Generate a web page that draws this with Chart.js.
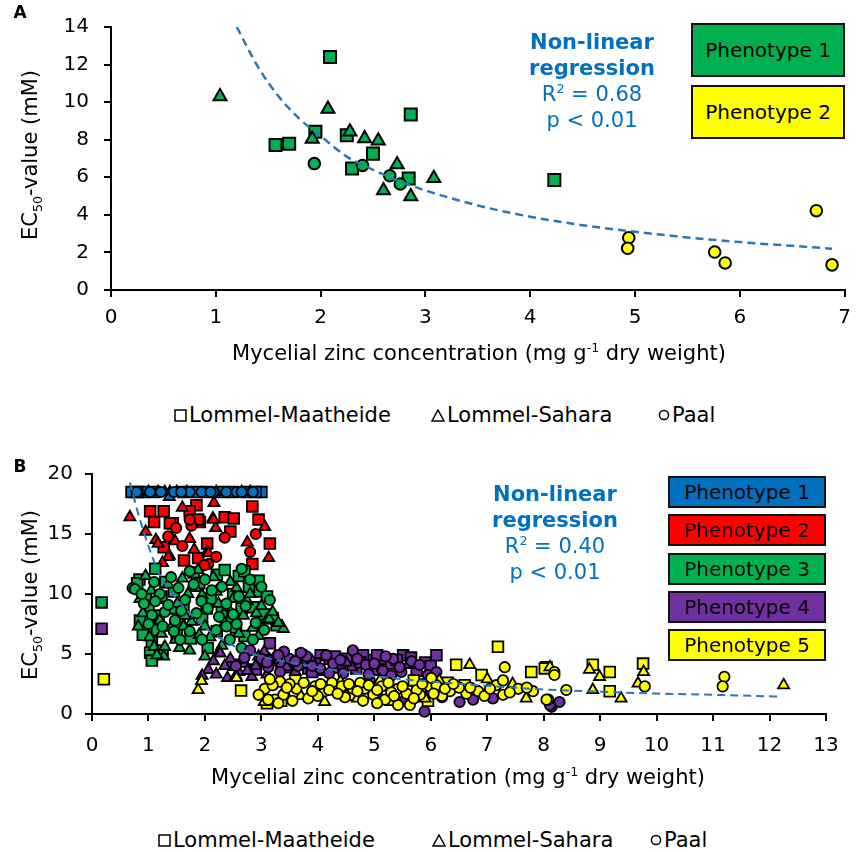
<!DOCTYPE html>
<html>
<head>
<meta charset="utf-8">
<script src="https://cdn.jsdelivr.net/npm/chart.js@4.4.1/dist/chart.umd.min.js"></script>
<style>
  body { margin: 0; width: 860px; height: 852px; position: relative; background: #fff; overflow: hidden;
         font-family: 'DejaVu Sans', Verdana, sans-serif; color: #000; }
  canvas { position: absolute; left: 0; }
  .t { position: absolute; white-space: nowrap; transform: translate(-50%, -50%); line-height: 1; }
  .rot { transform: translate(-50%, -50%) rotate(-90deg); }
  .lab { font-size: 21px; }
  .letter { font-weight: bold; font-size: 17px; }
  .reg { color: #0070C0; font-size: 21px; text-align: center; line-height: 26px; }
  .reg b { font-weight: bold; }
  .box { position: absolute; box-sizing: border-box; border: 2px solid #111; font-size: 20px;
         display: flex; align-items: center; justify-content: center; }
  .leg { position: absolute; display: flex; align-items: center; transform: translateY(-50%); font-size: 21px; white-space: nowrap; }
  .leg svg { margin-right: 2px; }
  sub, sup { font-size: 0.6em; line-height: 0; }
</style>
</head>
<body>
<canvas id="chartA" width="860" height="340" style="top:0"></canvas>
<canvas id="chartB" width="860" height="340" style="top:440px"></canvas>

<!-- panel A texts -->
<div class="t letter" style="left:20px;top:12px">A</div>
<div class="t lab rot" style="left:30px;top:155px">EC<sub>50</sub>-value (mM)</div>
<div class="t lab" style="left:479px;top:353px">Mycelial zinc concentration (mg g<sup>-1</sup> dry weight)</div>
<div class="t reg" style="left:592px;top:81px"><b>Non-linear<br>regression</b><br>R<sup>2</sup> = 0.68<br>p &lt; 0.01</div>
<div class="box" style="left:691px;top:23px;width:154px;height:54px;background:#00B050">Phenotype 1</div>
<div class="box" style="left:691px;top:85px;width:154px;height:54px;background:#FFFF00">Phenotype 2</div>
<div class="leg" style="left:174px;top:415px"><svg width="13" height="13"><rect x="1" y="1" width="11" height="11" fill="none" stroke="#000" stroke-width="1.5"/></svg>Lommel-Maatheide</div>
<div class="leg" style="left:431px;top:415px"><svg width="14" height="13"><polygon points="7,1 13,12 1,12" fill="none" stroke="#000" stroke-width="1.5"/></svg>Lommel-Sahara</div>
<div class="leg" style="left:658px;top:415px"><svg width="12" height="12"><circle cx="6" cy="6" r="4.6" fill="none" stroke="#000" stroke-width="1.5"/></svg>Paal</div>

<!-- panel B texts -->
<div class="t letter" style="left:20px;top:466px">B</div>
<div class="t lab rot" style="left:30px;top:595px">EC<sub>50</sub>-value (mM)</div>
<div class="t lab" style="left:458px;top:777px">Mycelial zinc concentration (mg g<sup>-1</sup> dry weight)</div>
<div class="t reg" style="left:555px;top:533px"><b>Non-linear<br>regression</b><br>R<sup>2</sup> = 0.40<br>p &lt; 0.01</div>
<div class="box" style="left:668px;top:476px;width:158px;height:32px;background:#0070C0">Phenotype 1</div>
<div class="box" style="left:668px;top:514px;width:158px;height:32px;background:#FF0000">Phenotype 2</div>
<div class="box" style="left:668px;top:553px;width:158px;height:32px;background:#00B050">Phenotype 3</div>
<div class="box" style="left:668px;top:591px;width:158px;height:32px;background:#7030A0">Phenotype 4</div>
<div class="box" style="left:668px;top:629px;width:158px;height:32px;background:#FFFF00">Phenotype 5</div>
<div class="leg" style="left:158px;top:840px"><svg width="13" height="13"><rect x="1" y="1" width="11" height="11" fill="none" stroke="#000" stroke-width="1.5"/></svg>Lommel-Maatheide</div>
<div class="leg" style="left:432px;top:840px"><svg width="14" height="13"><polygon points="7,1 13,12 1,12" fill="none" stroke="#000" stroke-width="1.5"/></svg>Lommel-Sahara</div>
<div class="leg" style="left:650px;top:840px"><svg width="12" height="12"><circle cx="6" cy="6" r="4.6" fill="none" stroke="#000" stroke-width="1.5"/></svg>Paal</div>

<script>
// ---- Panel A data: [zinc mg/g, EC50 mM] ----
const aP1Maatheide = [[2.09,12.4],[2.86,9.34],[1.95,8.42],[1.57,7.72],[1.70,7.78],[2.25,8.24],[2.50,7.26],[2.30,6.47],[2.84,5.94],[4.23,5.85]];
const aP1Sahara = [[1.04,10.3],[2.07,9.63],[1.92,8.04],[2.28,8.42],[2.42,8.07],[2.55,7.95],[2.73,6.68],[2.60,5.30],[2.86,4.98],[3.08,5.95]];
const aP1Paal = [[1.94,6.73],[2.40,6.63],[2.66,6.08],[2.76,5.64]];
const aP2Paal = [[4.94,2.78],[4.93,2.22],[5.76,2.02],[5.86,1.44],[6.73,4.22],[6.88,1.34]];
const aFit = [[1.2,14.0],[1.4,11.9],[1.6,10.3],[1.8,9.1],[2.0,8.2],[2.25,7.1],[2.5,6.4],[2.75,5.8],[3.0,5.3],[3.5,4.5],[4.0,3.9],[4.5,3.45],[5.0,3.1],[5.5,2.8],[6.0,2.55],[6.5,2.35],[6.88,2.2]];

// ---- Panel B data ----
const bP1Maatheide = [[0.70,18.5],[0.91,18.5],[1.62,18.5],[2.03,18.5],[2.30,18.5],[2.74,18.5],[3.00,18.5],[0.80,18.5],[1.10,18.5],[1.85,18.5],[2.50,18.5],[2.90,18.5]];
const bP1Sahara = [[1.17,18.5],[1.29,18.5],[1.38,18.5],[1.50,18.5],[2.65,18.5],[1.00,18.5],[1.68,18.5],[2.20,18.5],[2.80,18.5],[1.37,18.1]];
const bP1Paal = [[0.79,18.5],[1.03,18.5],[1.73,18.5],[1.94,18.5],[2.15,18.5],[2.38,18.5],[2.56,18.5],[2.85,18.5],[1.22,18.5],[1.45,18.5],[1.58,18.5],[2.10,18.5],[2.65,18.5]];

const bP2Maatheide = [[1.03,16.9],[1.27,16.9],[1.85,17.4],[2.84,17.3],[1.73,16.9],[1.43,15.9],[1.91,16.0],[2.35,16.4],[2.51,16.3],[3.15,14.2],[1.27,13.9],[2.04,14.2],[1.63,12.8],[1.88,13.0],[2.84,12.5],[1.38,15.9],[1.88,16.2],[1.10,16.0],[2.45,15.2],[2.95,16.2]];
const bP2Sahara = [[0.67,16.4],[2.16,17.6],[2.14,16.3],[2.19,15.5],[3.06,15.6],[3.13,13.0],[1.13,14.5],[1.17,14.2],[1.73,14.6],[1.81,13.7],[2.04,13.5],[1.37,13.2],[1.47,14.4],[1.35,13.1],[2.06,13.4],[2.15,16.2],[0.95,15.2],[1.60,17.2],[2.75,14.3],[1.25,12.6]];
const bP2Paal = [[1.49,15.5],[1.76,15.7],[2.35,14.7],[1.35,14.8],[2.06,12.5],[2.80,13.5],[1.73,16.2],[1.99,12.4],[1.60,14.0],[2.20,13.1],[2.90,15.0]];

const bP3Maatheide = [[0.17,9.3],[0.84,11.2],[1.12,12.1],[0.85,7.8],[1.23,9.8],[2.21,11.6],[2.03,8.8],[2.91,10.2],[2.65,8.8],[3.27,7.4],[2.21,6.9],[1.06,6.0],[1.03,5.1],[1.06,4.45],[1.30,11.0],[1.55,7.6],[1.90,10.9],[2.50,10.0],[2.95,11.1],[2.70,6.5],[1.40,8.8],[1.75,6.3],[2.45,7.8],[3.05,8.3],[0.95,9.7],[1.15,7.0],[2.35,12.0],
  [0.80,10.9],[1.00,9.0],[1.18,8.2],[1.45,10.2],[1.62,9.0],[1.80,11.8],[2.10,9.6],[2.30,8.5],[2.60,11.5],[2.78,10.6],[3.10,9.8],[2.85,8.9],[1.25,5.3],[1.50,6.6],[2.05,5.5],[2.55,7.2],[3.20,8.0],[0.90,6.6],[1.95,7.9],[2.70,11.9]];
const bP3Sahara = [[0.82,7.3],[1.14,9.5],[1.51,9.2],[1.84,10.5],[1.88,12.0],[2.24,9.2],[1.76,7.7],[2.56,10.5],[2.91,8.4],[3.09,7.8],[3.39,7.1],[2.09,6.4],[1.23,6.7],[1.29,5.6],[1.27,4.8],[1.73,5.3],[3.14,7.9],[0.90,8.4],[1.05,10.3],[1.60,11.3],[2.00,7.3],[2.40,8.9],[2.75,9.4],[2.60,6.7],[1.40,7.2],[1.95,9.9],[2.30,5.7],[1.55,5.5],[2.85,7.2],[3.00,9.0],[0.95,11.5],[1.10,5.6],[2.20,10.2],[1.65,8.2],
  [0.85,9.6],[1.02,6.4],[1.20,7.8],[1.35,10.8],[1.48,6.2],[1.70,10.0],[1.90,6.6],[2.15,11.4],[2.35,7.6],[2.50,9.6],[2.68,8.2],[2.80,10.0],[3.20,8.5],[3.30,7.6],[1.15,4.9],[2.00,4.8],[2.25,5.2],[2.95,6.5],[1.62,7.3],[2.45,11.0]];
const bP3Paal = [[0.72,10.5],[0.76,10.4],[0.92,9.2],[1.06,8.25],[1.29,8.5],[1.53,10.5],[1.65,9.5],[1.73,11.9],[2.12,10.3],[1.94,9.4],[1.47,7.8],[2.38,9.2],[2.65,12.1],[2.80,11.2],[3.15,9.5],[2.56,7.5],[2.38,7.3],[1.73,6.9],[1.56,6.2],[2.85,6.2],[2.44,6.2],[1.20,10.0],[1.00,7.5],[2.00,11.2],[2.60,9.8],[1.85,8.4],[2.25,8.1],[1.35,9.1],[2.90,7.6],[1.10,11.0],
  [0.88,10.0],[1.12,9.4],[1.40,11.4],[1.58,8.6],[1.80,10.8],[2.05,8.8],[2.30,10.6],[2.50,8.3],[2.72,9.0],[3.00,10.6],[1.25,7.3],[1.95,6.2],[2.20,7.0],[2.65,5.5],[3.05,7.0],[1.45,6.9]];

const bP4Maatheide = [[0.17,7.1],[3.15,5.9],[3.47,3.9],[3.83,3.8],[4.21,4.6],[4.51,4.6],[4.68,3.8],[4.92,4.5],[5.13,4.6],[5.51,4.9],[6.10,4.9],[3.00,4.4],[3.70,4.9],[4.40,4.1],[5.30,4.2],[5.75,3.6],[2.90,3.7],[4.05,4.9],[5.00,3.8],[4.80,4.9],[5.90,4.3],
  [3.25,4.5],[3.55,4.4],[3.95,4.2],[4.30,4.8],[4.75,4.3],[5.05,4.9],[5.40,4.5],[5.65,4.7],[6.00,4.0],[2.50,4.1],[3.90,3.5]];
const bP4Sahara = [[2.06,3.67],[2.27,5.06],[2.83,3.1],[2.71,4.2],[3.24,4.8],[2.45,4.6],[2.60,3.5],[2.15,4.4],[3.05,5.2],[3.35,4.2],[2.95,4.8],[3.90,4.4],[4.60,3.9],[2.40,3.0],[3.60,3.5],[5.60,4.1],[4.30,3.7],[3.10,3.3],
  [2.20,3.3],[2.35,4.0],[2.55,3.2],[2.90,4.0],[3.15,4.5],[3.45,3.9],[3.75,4.1],[4.10,3.5],[4.50,4.3],[5.00,3.5],[1.95,3.2],[2.75,3.6]];
const bP4Paal = [[2.80,5.3],[3.12,3.9],[3.33,3.5],[3.50,4.6],[3.80,4.8],[4.04,3.8],[4.27,4.2],[4.62,5.3],[5.33,4.6],[5.66,4.4],[5.48,3.5],[5.95,3.25],[5.89,0.2],[6.98,1.6],[6.51,1.0],[8.14,0.6],[8.11,0.75],[8.28,1.0],[4.92,2.8],[2.55,4.0],[3.00,4.6],[3.65,4.0],[4.15,4.9],[4.45,3.4],[4.85,4.1],[5.15,3.6],[5.05,1.6],[5.55,1.2],[6.20,1.4],[6.75,1.2],[7.10,1.3],[6.00,1.9],[3.40,5.2],[2.70,4.7],
  [3.10,4.3],[3.30,4.9],[3.60,4.4],[3.90,4.0],[4.20,3.4],[4.40,4.5],[4.70,4.6],[5.00,4.2],[5.20,4.8],[5.45,3.9],[5.80,4.1],[6.10,3.5],[4.90,3.3],[5.30,3.2],[3.70,5.1]];

const bP5Maatheide = [[0.21,2.9],[2.64,1.95],[3.10,0.9],[6.45,4.1],[6.90,3.25],[7.19,5.6],[7.78,3.5],[8.05,3.9],[8.02,3.8],[8.87,4.1],[9.17,3.5],[9.17,1.9],[9.76,4.2],[3.35,1.1],[5.70,2.8],[6.30,2.6],[3.60,2.8],[4.60,1.6],[5.95,1.1],[6.60,2.4]];
const bP5Sahara = [[1.88,2.0],[1.94,2.75],[2.56,3.0],[4.12,1.0],[6.69,4.1],[7.69,1.3],[8.11,3.9],[8.81,3.7],[8.99,3.1],[8.87,2.0],[9.37,1.3],[9.77,3.5],[9.67,2.55],[12.25,2.4],[3.05,1.0],[5.90,1.3],[7.00,2.9],[4.70,1.3],[3.70,1.5],[5.30,1.0],[3.40,1.9],[4.40,2.7],[5.10,2.8],[6.15,2.8],[7.45,2.5]];
const bP5Paal = [[3.06,2.1],[3.33,2.7],[3.24,1.2],[3.12,1.2],[3.39,1.6],[3.62,2.1],[3.95,2.3],[4.12,1.9],[4.42,2.3],[4.62,2.1],[4.83,2.1],[4.48,1.4],[3.83,1.3],[5.13,2.3],[4.98,1.6],[5.19,1.2],[5.42,2.1],[5.57,1.7],[5.63,0.75],[5.42,0.75],[5.81,1.6],[5.98,2.3],[6.10,2.4],[6.01,3.0],[6.34,1.9],[7.31,3.9],[6.63,1.7],[6.84,1.9],[7.16,2.4],[7.28,1.6],[7.55,2.1],[7.81,1.9],[8.19,3.5],[8.19,3.25],[8.40,2.0],[8.08,1.2],[8.05,1.2],[9.79,2.3],[11.20,3.1],[11.17,2.3],[7.28,2.8],[3.50,2.5],[4.25,2.6],[4.00,1.5],[4.75,2.6],[5.30,1.8],[5.75,2.0],[6.50,2.2],[3.20,2.4],[2.95,1.6],[6.20,1.5],
  [3.15,2.9],[3.45,2.2],[3.75,2.6],[3.90,1.9],[4.05,2.5],[4.20,2.0],[4.35,1.7],[4.55,2.5],[4.70,1.9],[4.90,2.4],[5.05,2.0],[5.25,2.6],[5.35,1.5],[5.50,2.3],[5.70,1.3],[5.85,2.5],[6.05,1.7],[6.25,2.1],[6.40,2.5],[6.70,2.2],[6.95,1.5],[7.05,2.1],[7.40,1.8],[7.70,2.2],[3.55,1.1],[4.80,1.1],[5.05,0.9],[3.30,0.9]];
const bFit = [[0.67,19.3],[0.8,17.0],[1.0,14.0],[1.2,11.6],[1.5,9.6],[1.75,8.3],[2.0,7.2],[2.5,5.7],[3.0,4.8],[3.5,4.3],[4.0,3.9],[5.0,3.15],[6.0,2.7],[7.0,2.35],[8.0,2.05],[9.0,1.85],[10.0,1.7],[11.0,1.6],[12.2,1.45]];

const colors = { p1: '#0070C0', p2: '#FF0000', p3: '#00B050', p4: '#7030A0', p5: '#FFFF00' };
const fontFamily = "'DejaVu Sans', Verdana, sans-serif";

function pts(arr) {
  return arr.map(p => ({ x: p[0], y: p[1] }));
}

function scatterSet(arr, style, radius, fill, bw) {
  return {
    data: pts(arr),
    showLine: false,
    pointStyle: style,
    pointRadius: radius,
    pointHoverRadius: radius,
    pointBackgroundColor: fill,
    pointBorderColor: '#000',
    pointBorderWidth: bw,
    clip: false
  };
}

function fitSet(arr, width) {
  return {
    type: 'line',
    data: pts(arr),
    showLine: true,
    borderColor: '#2E75B6',
    borderWidth: width,
    borderDash: [8, 5],
    pointRadius: 0,
    fill: false,
    cubicInterpolationMode: 'monotone'
  };
}

function axis(max, step, pad, fit) {
  return {
    type: 'linear',
    min: 0,
    max: max,
    ticks: { stepSize: step, color: '#000', font: { family: fontFamily, size: 20 }, padding: pad, maxRotation: 0, autoSkip: false },
    grid: { drawOnChartArea: false, color: '#000', lineWidth: 2, tickLength: 7 },
    border: { color: '#000', width: 2 },
    afterFit: fit
  };
}

function makeChart(id, datasets, padding, xMax, xStep, yMax, yStep, yWidth, xHeight, xPad, yPad) {
  return new Chart(document.getElementById(id), {
    type: 'scatter',
    data: { datasets: datasets },
    options: {
      responsive: false,
      animation: false,
      events: [],
      layout: { padding: padding },
      plugins: { legend: { display: false }, tooltip: { enabled: false } },
      scales: {
        x: axis(xMax, xStep, xPad, s => { s.height = xHeight; }),
        y: axis(yMax, yStep, yPad, s => { s.width = yWidth; })
      }
    }
  });
}

// first dataset is drawn on top
makeChart('chartA', [
  fitSet(aFit, 2.5),
  scatterSet(aP2Paal, 'circle', 5.8, colors.p5, 2),
  scatterSet(aP1Paal, 'circle', 5.8, colors.p3, 2),
  scatterSet(aP1Sahara, 'triangle', 7.5, colors.p3, 2),
  scatterSet(aP1Maatheide, 'rect', 8.5, colors.p3, 2)
], { top: 21, right: 12, left: 0, bottom: 0 }, 7, 1, 14, 2, 111, 50, 9, 15);

makeChart('chartB', [
  fitSet(bFit, 2),
  scatterSet(bP5Paal, 'circle', 5.2, colors.p5, 1.8),
  scatterSet(bP5Sahara, 'triangle', 6.4, colors.p5, 1.8),
  scatterSet(bP5Maatheide, 'rect', 7.6, colors.p5, 1.8),
  scatterSet(bP4Paal, 'circle', 5.2, colors.p4, 1.8),
  scatterSet(bP4Sahara, 'triangle', 6.4, colors.p4, 1.8),
  scatterSet(bP4Maatheide, 'rect', 7.6, colors.p4, 1.8),
  scatterSet(bP3Paal, 'circle', 5.2, colors.p3, 1.8),
  scatterSet(bP3Sahara, 'triangle', 6.4, colors.p3, 1.8),
  scatterSet(bP3Maatheide, 'rect', 7.6, colors.p3, 1.8),
  scatterSet(bP2Paal, 'circle', 5.2, colors.p2, 1.8),
  scatterSet(bP2Sahara, 'triangle', 6.4, colors.p2, 1.8),
  scatterSet(bP2Maatheide, 'rect', 7.6, colors.p2, 1.8),
  scatterSet(bP1Paal, 'circle', 5.2, colors.p1, 1.8),
  scatterSet(bP1Sahara, 'triangle', 6.4, colors.p1, 1.8),
  scatterSet(bP1Maatheide, 'rect', 7.6, colors.p1, 1.8)
], { top: 34, right: 34, left: 0, bottom: 0 }, 13, 1, 20, 5, 92, 66, 13, 12);
</script>
</body>
</html>
